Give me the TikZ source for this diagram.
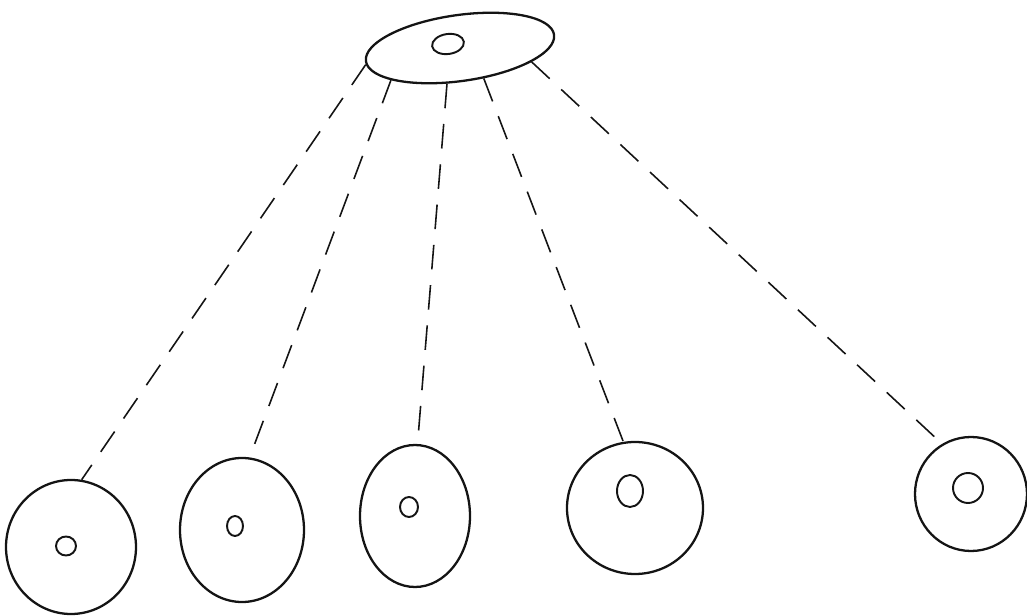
\documentclass[tikz,border=0pt]{standalone}
\usepackage{tikz}
\usetikzlibrary{shapes.geometric}
\definecolor{skink}{RGB}{20,20,20}

\begin{document}
\begin{tikzpicture}[
    %% ── node styles ──────────────────────────────────────────────────────────
    cell/.style={
        ellipse, draw=skink, line width=1.3pt, inner sep=0pt
    },
    nucleus/.style={
        ellipse, draw=skink, line width=1.1pt, inner sep=0pt
    },
    %% ── edge styles ──────────────────────────────────────────────────────────
    tether/.style={
        draw=skink, line width=0.9pt, dash pattern=on 14pt off 9pt
    },
]
\useasboundingbox (0,0) rectangle (20.54,12.32);

%% ── Parent cell (top) ───────────────────────────────────────────────────────
\node[cell, minimum width=3.8cm, minimum height=1.32cm, rotate=8] (parent) at (9.2,11.36) {};
\node[nucleus, minimum width=0.64cm, minimum height=0.4cm, rotate=8] (pnuc) at (8.96,11.44) {};

%% ── Daughter cells (bottom row, left to right) ──────────────────────────────
\node[cell, minimum width=2.6cm,  minimum height=2.68cm] (d1) at (1.42,1.38) {};
\node[cell, minimum width=2.48cm, minimum height=2.88cm] (d2) at (4.84,1.72) {};
\node[cell, minimum width=2.2cm,  minimum height=2.84cm] (d3) at (8.30,2.00) {};
\node[cell, minimum width=2.72cm, minimum height=2.64cm] (d4) at (12.70,2.16) {};
\node[cell, minimum width=2.24cm, minimum height=2.28cm] (d5) at (19.42,2.44) {};

\node[nucleus, minimum width=0.4cm,  minimum height=0.38cm] (n1) at (1.32,1.40) {};
\node[nucleus, minimum width=0.32cm, minimum height=0.4cm]  (n2) at (4.70,1.80) {};
\node[nucleus, minimum width=0.36cm, minimum height=0.4cm]  (n3) at (8.18,2.18) {};
\node[nucleus, minimum width=0.52cm, minimum height=0.64cm] (n4) at (12.60,2.50) {};
\node[nucleus, minimum width=0.6cm,  minimum height=0.6cm]  (n5) at (19.36,2.56) {};

%% ── Dashed tethers from the parent ──────────────────────────────────────────
\draw[tether] (parent.182) -- (d1.81);
\draw[tether] (parent.197) -- (d2.84);
\draw[tether] (parent.242) -- (d3.88);
\draw[tether] (parent.300) -- (d4.100);
\draw[tether] (parent.341) -- (d5.120);

\end{tikzpicture}
\end{document}
